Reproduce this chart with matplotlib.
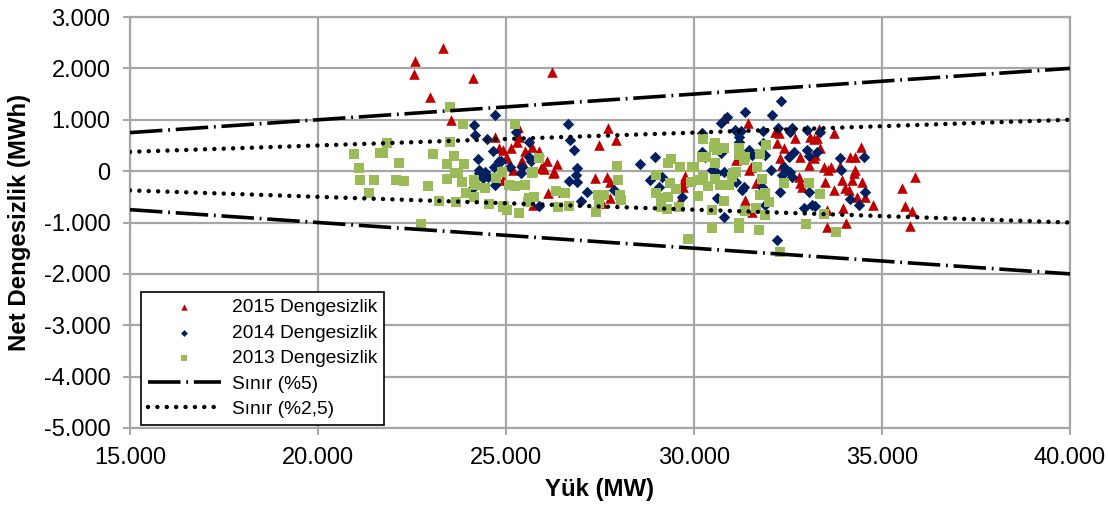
# Net imbalance vs load scatter chart
import matplotlib
matplotlib.use('Agg')
import matplotlib.pyplot as plt
from matplotlib.ticker import FuncFormatter, MultipleLocator

plt.rcParams['font.family'] = ['Liberation Sans', 'DejaVu Sans']

# 2015 imbalance points (load MW, imbalance MWh)
x_2015 = [22570, 22550, 23320, 24120, 22970, 23530, 26230, 24710, 24820, 25000,
          25320, 25350, 25290, 25130, 25510, 25690, 25880, 24920, 25030, 25430,
          26090, 26360, 25930, 26010, 26250, 25190, 25400, 25990, 26280, 27720,
          27930, 27480, 27370, 27690, 27770, 26120, 26520, 27770, 27560, 25720,
          29750, 29720, 29720, 29590, 31430, 33720, 33320, 32150, 32250, 32680,
          33080, 33190, 33270, 32200, 32390, 33350, 34440, 32280, 32330, 32810,
          33190, 33210, 34150, 34280, 31130, 31510, 31450, 33050, 33450, 33640,
          33560, 34280, 33880, 32790, 32810, 32870, 33480, 33930, 34200, 34250,
          34470, 33720, 34010, 34120, 34330, 34550, 31640, 31350, 31530, 33530,
          33960, 34760, 33530, 34040, 30810, 35880, 35530, 35610, 35800, 35750,
          24920]
y_2015 = [2140, 1890, 2390, 1810, 1440, 990, 1930, 660, 450, 250,
          860, 660, 560, 450, 390, 470, 390, 410, 250, 200,
          200, 140, 60, 40, -40, 20, 180, 80, -20, 840,
          600, 510, -140, -120, -210, -430, -410, -530, -620, -660,
          -100, -210, -310, -600, 930, 740, 820, 760, 740, 640,
          660, 620, 640, 550, 450, 450, 470, 250, 120, 270,
          250, 310, 270, 270, 210, 80, 20, 120, 80, 80,
          20, 20, 100, -120, -230, -310, -210, -180, -180, -40,
          -210, -370, -330, -370, -510, -510, -230, -560, -800, -760,
          -720, -660, -1090, -1010, 1030, -120, -330, -680, -780, -1070,
          -180]

# 2014 imbalance points
x_2014 = [24710, 24150, 24170, 24490, 24650, 24250, 24820, 24680, 24280, 24390,
          24520, 24280, 24710, 24090, 26650, 26710, 26810, 25270, 25610, 25610,
          25670, 25430, 25400, 25110, 24870, 26890, 26870, 26680, 26890, 27160,
          27000, 27880, 25880, 28570, 28950, 29160, 28840, 29080, 29690, 32310,
          31350, 32070, 30870, 30730, 30200, 31080, 31240, 31830, 32230, 32600,
          32550, 33000, 33350, 31190, 31190, 31450, 31830, 31880, 31530, 30200,
          30280, 30730, 32650, 32520, 33000, 33050, 33270, 33880, 34520, 33910,
          30470, 30600, 30790, 31130, 31320, 31270, 31800, 32040, 32330, 32390,
          32550, 32600, 32280, 33050, 34550, 34150, 34390, 30600, 31880, 32920,
          33130, 33210, 30790, 32200, 24350, 24450]
y_2014 = [1090, 900, 700, 620, 390, 230, 200, 80, 20, -140,
          -120, -40, -270, -350, 920, 600, 410, 760, 560, 270,
          200, 80, -40, 80, 200, 60, -80, -200, -210, -410,
          -580, -370, -680, 140, 270, -120, -180, -310, -510, 1360,
          1150, 1090, 1050, 930, 740, 800, 780, 780, 840, 840,
          760, 800, 760, 660, 560, 410, 550, 310, 310, 370,
          270, 350, 370, 270, 410, 290, 370, 250, 270, 20,
          20, -40, -20, -210, -310, -370, -310, 20, -80, 80,
          -20, -120, -410, -410, -410, -550, -660, -530, -660, -720,
          -660, -680, -900, -1340, -60, -20]

# 2013 imbalance points
x_2013 = [23510, 23850, 21830, 23510, 20950, 21640, 21720, 23050, 23610, 22150,
          23430, 23880, 21080, 23640, 23720, 23430, 21130, 21480, 22070, 22280,
          23830, 24150, 24170, 22920, 24440, 21370, 23930, 24150, 23210, 23670,
          24550, 24920, 25030, 22730, 25240, 25720, 25880, 25080, 25240, 25510,
          26330, 26570, 25610, 25750, 24950, 25350, 26390, 26680, 27960, 27990,
          27450, 27610, 28040, 28070, 27480, 27400, 29320, 29400, 29640, 29960,
          29000, 29350, 29530, 29000, 29130, 29320, 30120, 30120, 29130, 29290,
          29590, 29830, 30230, 30550, 30520, 30600, 30810, 30200, 30330, 30550,
          31190, 31190, 31320, 31350, 31910, 31750, 31670, 29990, 30250, 31050,
          31130, 31000, 30550, 30360, 30680, 30920, 31800, 32390, 33050, 33350,
          31880, 31750, 31990, 30810, 31640, 31350, 30470, 31880, 33450, 31210,
          31210, 31720, 30490, 32970, 33770, 32280, 29930, 25690, 25590, 24890,
          24730]
y_2013 = [1250, 920, 550, 560, 330, 350, 350, 330, 290, 160,
          140, 140, 60, -40, -40, -160, -180, -180, -180, -200,
          -210, -180, -270, -290, -330, -430, -430, -510, -580, -600,
          -640, -700, -760, -1030, 920, -20, 250, -270, -290, -270,
          -390, -430, -530, -510, -680, -820, -700, -680, 100, -180,
          -470, -470, -470, -560, -620, -800, 160, 230, 80, 80,
          -80, -230, -350, -430, -530, -510, -180, -490, -700, -740,
          -700, -1320, 620, 550, 470, 410, 450, 270, 270, 160,
          450, 310, 210, 270, 510, 330, 80, 80, -120, -40,
          -20, -120, -160, -290, -270, -270, -160, -230, -230, -450,
          -430, -470, -600, -580, -720, -780, -760, -860, -840, -1010,
          -1110, -1150, -1110, -1030, -1190, -1580, -210, -40, -600, -20,
          -140]

# Boundary lines (%5 and %2,5 of load)
x_sinir = [15000, 40000]
y_sinir5_ust = [750, 2000]
y_sinir5_alt = [-750, -2000]
y_sinir25_ust = [375, 1000]
y_sinir25_alt = [-375, -1000]

fig = plt.figure(figsize=(11.08, 5.08), dpi=100)
ax = fig.add_axes([0.1173, 0.1575, 0.8484, 0.809])

# Scatter series, later series on top like Excel
ax.scatter(x_2015, y_2015, marker='^', s=58, color='#C00000', linewidths=0,
           label='2015 Dengesizlik', zorder=3)
ax.scatter(x_2014, y_2014, marker='D', s=34, color='#002060', linewidths=0,
           label='2014 Dengesizlik', zorder=4)
ax.scatter(x_2013, y_2013, marker='s', s=42, color='#9BBB59', linewidths=0,
           label='2013 Dengesizlik', zorder=5)

# Limit lines
dashdot = (0, (9, 1.6, 0.5, 1.6))
ax.plot(x_sinir, y_sinir5_ust, color='black', lw=2.6, linestyle=dashdot,
        label='Sınır (%5)', zorder=6)
ax.plot(x_sinir, y_sinir5_alt, color='black', lw=2.6, linestyle=dashdot, zorder=6)
dots = (0, (0.01, 2.1))
ax.plot(x_sinir, y_sinir25_ust, color='black', lw=3.2, linestyle=dots,
        dash_capstyle='round', label='Sınır (%2,5)', zorder=6)
ax.plot(x_sinir, y_sinir25_alt, color='black', lw=3.2, linestyle=dots,
        dash_capstyle='round', zorder=6)

ax.set_xlim(15000, 40000)
ax.set_ylim(-5000, 3000)
ax.xaxis.set_major_locator(MultipleLocator(5000))
ax.yaxis.set_major_locator(MultipleLocator(1000))

# Turkish style thousands separator
fmt = FuncFormatter(lambda v, p: f'{int(round(v)):,}'.replace(',', '.'))
ax.xaxis.set_major_formatter(fmt)
ax.yaxis.set_major_formatter(fmt)

ax.grid(True, color='#A6A6A6', lw=1.6, zorder=0)
ax.set_axisbelow(True)
for s in ax.spines.values():
    s.set_color('#A6A6A6')
    s.set_linewidth(1.6)
ax.tick_params(axis='both', colors='#A6A6A6', length=5, width=1.4,
               labelcolor='black', labelsize=17)
ax.tick_params(axis='x', pad=9)
ax.tick_params(axis='y', pad=9)

ax.set_xlabel('Yük (MW)', fontsize=17.3, fontweight='bold', labelpad=6)
ax.set_ylabel('Net Dengesizlik (MWh)', fontsize=17.3, fontweight='bold', labelpad=9)

leg = ax.legend(loc='lower left', bbox_to_anchor=(0.012, 0.008), fontsize=13.8,
                frameon=True, fancybox=False, edgecolor='black', framealpha=1,
                handlelength=3.8, handletextpad=0.6, labelspacing=0.42,
                borderpad=0.35, markerscale=0.6, borderaxespad=0)
leg.get_frame().set_linewidth(1.2)
leg.set_zorder(10)

plt.savefig('out.png', dpi=100)
